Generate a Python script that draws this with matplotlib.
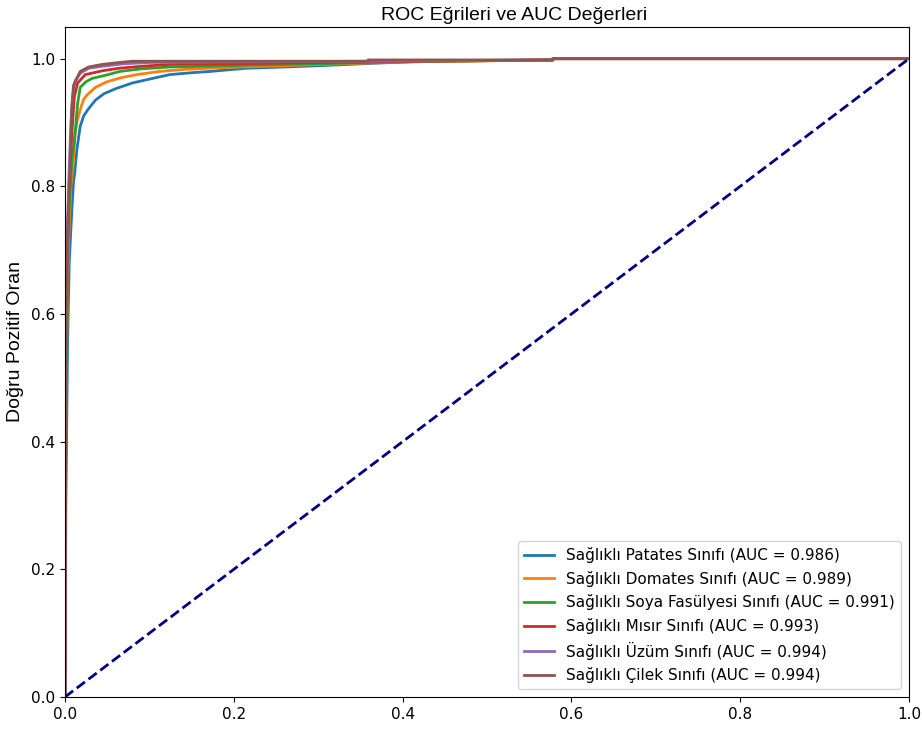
import numpy as np
import matplotlib
matplotlib.use("Agg")
import matplotlib.pyplot as plt

plt.rcParams['font.family'] = ['DejaVu Sans']

class_names = [
    "Sağlıklı Patates Sınıfı",
    "Sağlıklı Domates Sınıfı",
    "Sağlıklı Soya Fasülyesi Sınıfı",
    "Sağlıklı Mısır Sınıfı",
    "Sağlıklı Üzüm Sınıfı",
    "Sağlıklı Çilek Sınıfı",
]
auc_values = [0.986, 0.989, 0.991, 0.993, 0.994, 0.994]

# False / true positive rates per class
fpr_patates = [0, 0.001, 0.003, 0.005, 0.008, 0.010, 0.0115, 0.014, 0.018, 0.022, 0.027,
               0.036, 0.046, 0.060, 0.080, 0.100, 0.124, 0.150, 0.172, 0.215, 0.260,
               0.302, 0.369, 0.406, 0.450, 0.578, 0.578, 1.0]
tpr_patates = [0, 0.30, 0.55, 0.68, 0.76, 0.806, 0.821, 0.857, 0.894, 0.910, 0.920,
               0.935, 0.945, 0.953, 0.962, 0.968, 0.975, 0.978, 0.980, 0.985, 0.987,
               0.989, 0.993, 0.995, 0.997, 0.998, 1.0, 1.0]

fpr_domates = [0, 0.001, 0.003, 0.005, 0.007, 0.0095, 0.012, 0.015, 0.018, 0.022, 0.026,
               0.036, 0.050, 0.066, 0.085, 0.112, 0.140, 0.170, 0.210, 0.260, 0.330,
               0.406, 0.578, 0.578, 1.0]
tpr_domates = [0, 0.45, 0.65, 0.74, 0.80, 0.831, 0.884, 0.905, 0.920, 0.936, 0.943,
               0.955, 0.964, 0.970, 0.975, 0.980, 0.983, 0.985, 0.987, 0.989, 0.992,
               0.995, 0.998, 1.0, 1.0]

fpr_soya = [0, 0.001, 0.003, 0.005, 0.008, 0.011, 0.013, 0.015, 0.018, 0.025, 0.032,
            0.048, 0.065, 0.090, 0.124, 0.200, 0.220, 0.300, 0.360, 0.450, 0.578, 0.578, 1.0]
tpr_soya = [0, 0.45, 0.68, 0.77, 0.84, 0.870, 0.900, 0.930, 0.955, 0.964, 0.969,
            0.974, 0.980, 0.984, 0.987, 0.989, 0.990, 0.992, 0.994, 0.996, 0.998, 1.0, 1.0]

fpr_misir = [0, 0.001, 0.003, 0.005, 0.008, 0.011, 0.015, 0.024, 0.044, 0.064, 0.090,
             0.124, 0.200, 0.300, 0.360, 0.578, 0.578, 1.0]
tpr_misir = [0, 0.48, 0.72, 0.81, 0.88, 0.940, 0.962, 0.975, 0.981, 0.985, 0.988,
             0.991, 0.992, 0.994, 0.995, 0.998, 1.0, 1.0]

fpr_uzum = [0, 0.001, 0.003, 0.005, 0.007, 0.009, 0.012, 0.018, 0.028, 0.044, 0.070,
            0.100, 0.200, 0.360, 0.578, 0.578, 1.0]
tpr_uzum = [0, 0.52, 0.74, 0.83, 0.90, 0.940, 0.965, 0.977, 0.985, 0.988, 0.992,
            0.994, 0.995, 0.996, 0.998, 1.0, 1.0]

fpr_cilek = [0, 0.001, 0.002, 0.004, 0.007, 0.008, 0.010, 0.018, 0.028, 0.044, 0.064,
             0.080, 0.359, 0.359, 0.578, 0.578, 1.0]
tpr_cilek = [0, 0.52, 0.66, 0.76, 0.86, 0.922, 0.958, 0.980, 0.987, 0.991, 0.994,
             0.996, 0.996, 0.998, 0.998, 1.0, 1.0]

fpr_list = [fpr_patates, fpr_domates, fpr_soya, fpr_misir, fpr_uzum, fpr_cilek]
tpr_list = [tpr_patates, tpr_domates, tpr_soya, tpr_misir, tpr_uzum, tpr_cilek]

fig = plt.figure(figsize=(9.22, 7.29), dpi=100)
ax = fig.add_axes([0.0705, 0.0439, 0.9154, 0.9194])

for name, fpr, tpr, auc in zip(class_names, fpr_list, tpr_list, auc_values):
    ax.plot(fpr, tpr, lw=2, label=f"{name} (AUC = {auc:.3f})")

ax.plot([0, 1], [0, 1], color='navy', lw=2, linestyle='--')
ax.set_xlim([0.0, 1.0])
ax.set_ylim([0.0, 1.05])
ax.set_ylabel('Doğru Pozitif Oran', fontsize=14, family=['Liberation Sans', 'DejaVu Sans'])
ax.yaxis.set_label_coords(-0.049, 0.53)
ax.set_title('ROC Eğrileri ve AUC Değerleri', fontsize=14,
             family=['Liberation Sans', 'DejaVu Sans'], x=0.532, pad=5)
ax.tick_params(labelsize=11)
ax.legend(loc='lower right', fontsize=11)

fig.savefig('out.png', dpi=100)
